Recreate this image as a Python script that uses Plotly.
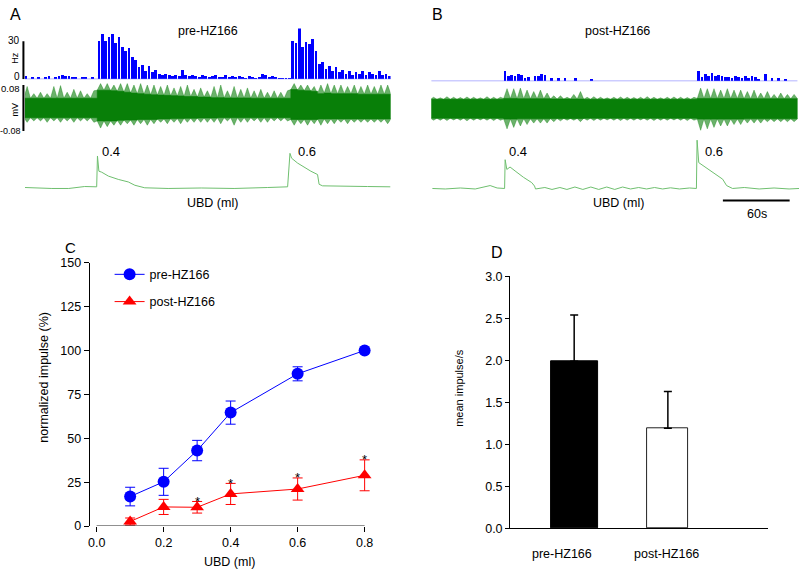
import numpy as np
import plotly.graph_objects as go

W, H = 800, 576
def px(x): return x / W
def py(y): return 1 - y / H

FONT = "Arial, Liberation Sans, sans-serif"

# ---------------- Panel A / B data ----------------
HIST_BIN = 3.0   # s
GREEN_BIN = 6.0  # s
T0 = -1.0        # s, start of first bin

# firing-rate histogram (Hz), pre-HZ166
hist_pre = [2.5, 0, 1, 0, 1.5, 0, 1, 2, 0, 1, 2.5, 3, 2.5, 2, 1, 1.5, 0, 1, 1, 0, 1.5, 0,
            30, 35, 30, 33, 35, 28, 33, 25, 22, 24, 17, 15, 9, 11, 6, 10, 5, 7, 4, 3, 4, 3,
            2.5, 3, 2, 7, 3, 2.5,
            3, 2, 1.5, 3, 2.5, 1, 2, 3, 1.5, 1, 3, 1.5, 2, 1, 2.5, 1, 0.5, 2, 1, 0.5, 1.5, 4,
            3, 1, 2.5, 1, 0.5, 0.5, 0.5, 0.5,
            30, 28, 42, 25, 29, 27, 31, 22, 12, 13, 8, 10, 6, 9, 5, 7, 4, 6, 3, 5, 4, 6, 3, 5,
            4, 3, 6, 3, 4, 2.5]
# firing-rate histogram (Hz), post-HZ166
hist_post = [0, 0, 0, 0, 0, 0, 0, 0, 0, 0, 0, 0, 0, 0, 0, 0, 0, 0, 0, 0, 0, 0,
             8, 4, 4.5, 3.5, 5, 4.5, 2.5, 3, 0, 4, 3.5, 5, 4.5, 0, 2, 0, 2, 0, 2.5, 0, 0, 2,
             0, 0, 0, 0, 1.5,
             0, 0, 0, 0, 0, 0, 0, 0, 0, 0, 0, 0, 0, 0, 0, 0, 0, 0, 0, 0, 0, 0, 0, 0, 0, 0, 0,
             0, 0, 0, 0,
             7.5, 3, 5, 3.5, 6, 4, 4.5, 4, 3, 3, 2.5, 4, 3, 2, 4, 2.5, 3.5, 3, 1.5, 0, 5, 0, 2,
             0, 2, 0, 1.5, 0, 0, 0]

# raw nerve recording envelopes (mV), pre-HZ166
core_top_pre = [0.034, 0.034, 0.034, 0.034, 0.034, 0.034, 0.034, 0.034, 0.034, 0.034, 0.034,
                0.062, 0.062, 0.06, 0.058, 0.055, 0.052, 0.05, 0.048, 0.046, 0.045, 0.044, 0.043,
                0.042, 0.04, 0.04, 0.038, 0.038, 0.036, 0.036, 0.035, 0.035, 0.035, 0.035, 0.034,
                0.034, 0.034, 0.034, 0.034, 0.034,
                0.064, 0.062, 0.06, 0.058, 0.05, 0.052, 0.05, 0.05, 0.05, 0.05, 0.048, 0.048,
                0.048, 0.048, 0.048]
core_bot_pre = [-0.034, -0.034, -0.034, -0.034, -0.034, -0.034, -0.034, -0.034, -0.034, -0.034, -0.034,
                -0.045, -0.045, -0.045, -0.043, -0.042, -0.042, -0.04, -0.04, -0.04, -0.038, -0.038,
                -0.037, -0.037, -0.036, -0.036, -0.035, -0.035, -0.035, -0.034,
                -0.034, -0.034, -0.034, -0.034, -0.034, -0.034, -0.034, -0.034, -0.034, -0.034,
                -0.04, -0.04, -0.04, -0.04, -0.038, -0.038, -0.038, -0.038, -0.038, -0.038,
                -0.038, -0.038, -0.038, -0.038, -0.038]
spike_top_pre = [0.075, 0.05, 0.055, 0.05, 0.075, 0.078, 0.055, 0.065, 0.06, 0.05, 0.06,
                 0.085, 0.085, 0.08, 0.085, 0.085, 0.08, 0.085, 0.08, 0.08, 0.075, 0.08, 0.07,
                 0.075, 0.08, 0.065, 0.07, 0.06, 0.075, 0.08, 0.06, 0.075, 0.065, 0.07, 0.06,
                 0.065, 0.055, 0.06, 0.055, 0.06,
                 0.085, 0.08, 0.08, 0.075, 0.08, 0.085, 0.08, 0.08, 0.075, 0.08, 0.075, 0.08,
                 0.075, 0.08, 0.08]
spike_bot_pre = [-0.05, -0.045, -0.045, -0.05, -0.045, -0.05, -0.045, -0.05, -0.045, -0.045, -0.05,
                 -0.07, -0.065, -0.06, -0.06, -0.055, -0.06, -0.055, -0.06, -0.055, -0.05, -0.055,
                 -0.05, -0.055, -0.05, -0.05, -0.05, -0.05, -0.05, -0.055, -0.045, -0.06, -0.05,
                 -0.05, -0.045, -0.05, -0.05, -0.045, -0.045, -0.045,
                 -0.06, -0.055, -0.06, -0.055, -0.06, -0.055, -0.055, -0.05, -0.055, -0.05,
                 -0.05, -0.05, -0.05, -0.05, -0.055]

# raw nerve recording envelopes (mV), post-HZ166
core_top_post = [0.033, 0.033, 0.033, 0.033, 0.033, 0.033, 0.033, 0.033, 0.033, 0.033, 0.033,
                 0.036, 0.036, 0.035, 0.035, 0.035, 0.035, 0.035, 0.034, 0.034, 0.034, 0.034, 0.034,
                 0.033, 0.033, 0.033, 0.033, 0.033, 0.033, 0.033, 0.033, 0.033, 0.033, 0.033, 0.033,
                 0.033, 0.033, 0.033, 0.033, 0.033,
                 0.036, 0.036, 0.036, 0.036, 0.036, 0.036, 0.036, 0.035, 0.035, 0.035, 0.035,
                 0.035, 0.035, 0.035, 0.035]
core_bot_post = [-0.033, -0.033, -0.033, -0.033, -0.033, -0.033, -0.033, -0.033, -0.033, -0.033, -0.033,
                 -0.036, -0.036, -0.035, -0.035, -0.035, -0.035, -0.035, -0.034, -0.034, -0.034, -0.034,
                 -0.034, -0.033, -0.033, -0.033, -0.033, -0.033, -0.033, -0.033, -0.033, -0.033,
                 -0.033, -0.033, -0.033, -0.033, -0.033, -0.033, -0.033, -0.033,
                 -0.036, -0.036, -0.036, -0.036, -0.036, -0.036, -0.036, -0.035, -0.035, -0.035,
                 -0.035, -0.035, -0.035, -0.035, -0.035]
spike_top_post = [0.04, 0.038, 0.042, 0.04, 0.039, 0.041, 0.04, 0.038, 0.042, 0.04, 0.04,
                  0.07, 0.07, 0.072, 0.065, 0.06, 0.065, 0.055, 0.045, 0.045, 0.04, 0.05, 0.06,
                  0.04, 0.042, 0.04, 0.038, 0.04, 0.041, 0.04, 0.039, 0.04, 0.042, 0.04, 0.038,
                  0.04, 0.041, 0.04, 0.039, 0.04,
                  0.072, 0.07, 0.07, 0.065, 0.07, 0.065, 0.065, 0.06, 0.065, 0.055, 0.06, 0.05,
                  0.055, 0.05, 0.05]
spike_bot_post = [-0.04, -0.04, -0.041, -0.039, -0.04, -0.042, -0.04, -0.039, -0.04, -0.041, -0.04,
                  -0.07, -0.065, -0.06, -0.055, -0.05, -0.05, -0.05, -0.045, -0.042, -0.04, -0.04,
                  -0.045,
                  -0.04, -0.041, -0.04, -0.039, -0.04, -0.041, -0.04, -0.04, -0.039, -0.04, -0.041,
                  -0.04, -0.04, -0.039, -0.04, -0.041, -0.04,
                  -0.075, -0.07, -0.065, -0.06, -0.06, -0.055, -0.055, -0.05, -0.05, -0.05,
                  -0.045, -0.045, -0.045, -0.045, -0.045]

# bladder pressure (UBD) traces: time (s) and pressure (arb. units)
press_pre_t = [0, 10.7, 24.2, 39.4, 53.7, 64.5, 65.2, 66.5, 69, 75, 83.9, 92.9, 98.8, 107.7,
               128.7, 158.5, 188, 218.2, 236.1, 238.2, 239.7, 245.1, 251, 257, 263, 264.4,
               267.5, 277.6, 307.8, 328.6]
press_pre_v = [1, 0.5, 0, 0, 2, 1.7, 33.3, 17.7, 16.7, 12.7, 9.3, 6.7, 3.3, 0.7,
               0, 0.5, 0, 1, 1.7, 36, 31, 26, 21.7, 17.7, 14.3, 4.3,
               2.7, 2.7, 2, 1.7]
press_post_t = [0.9, 12.5, 26, 39.4, 52.8, 59.1, 65.8, 66.3, 67.8, 70.7, 75.2, 82.7, 90.2, 92.7,
                93.6, 102, 108.4, 115.5, 121.8, 129, 136.1, 143.3, 150.4, 157.6, 164.8, 171.9,
                179, 186.3, 193.4, 200.6, 207.8, 214.9, 223, 232, 238.2, 238.8, 240.3, 246.9,
                254.3, 261.8, 265.3, 270.7, 281.2, 294.6, 308, 321.5, 330.4]
press_post_v = [0.5, 0, 1, 0, 3.5, 1, 0.5, 30, 20, 22.5, 18.5, 12, 6.5, 3,
                0, 1.5, -0.5, 1.5, -0.5, 2, -0.5, 2, -0.5, 2, -0.5, 2,
                0, 1.5, 0, 1.5, 0, 1.2, 0, 1, 0.5, 50, 27, 22,
                16, 10, 3.5, 0.5, 1.5, 0, 1, 0, 0.5]

# ---------------- Panel C data ----------------
ubd = [0.1, 0.2, 0.3, 0.4, 0.6, 0.8]
pre_mean = [16.8, 25.2, 43.0, 64.6, 86.7, 100.0]
pre_sem = [5.3, 7.7, 5.8, 6.6, 4.0, 0.0]
post_mean = [2.6, 10.9, 10.7, 18.3, 21.1, 28.9]
post_sem = [2.0, 4.3, 3.3, 6.0, 6.3, 8.8]
signif = [False, False, True, True, True, True]

# ---------------- Panel D data ----------------
groups = ["pre-HZ166", "post-HZ166"]
mean_rate = [1.99, 1.19]
mean_rate_sem = [0.55, 0.44]

# ---------------- build figure ----------------
fig = go.Figure()

def step_xy(vals, binw):
    x = list(T0 + binw * np.arange(len(vals) + 1))
    y = list(vals) + [vals[-1]]
    return x, y

def saw_xy(core, spike, binw):
    # bin edges at core level, bin centres at spike level
    xs, ys = [], []
    for i, (c, s) in enumerate(zip(core, spike)):
        xs += [T0 + binw * i, T0 + binw * (i + 0.5)]
        ys += [c, s]
    xs.append(T0 + binw * len(core))
    ys.append(core[-1])
    return xs, ys

BLUE = "#0000ff"
GREEN = "#087f08"
SPIKE = "rgba(8,127,8,0.6)"
PGREEN = "#6fbf6f"

# histograms: bars + baseline
for hist, xa, ya in [(hist_pre, "x", "y"), (hist_post, "x2", "y4")]:
    centers = T0 + HIST_BIN * (np.arange(len(hist)) + 0.5)
    edges = T0 + HIST_BIN * np.arange(len(hist) + 1)
    fig.add_trace(go.Scatter(x=[edges[0], edges[-1]], y=[0, 0], mode="lines",
                             line=dict(color="#6a6aff", width=1), xaxis=xa, yaxis=ya,
                             showlegend=False, hoverinfo="skip"))
    fig.add_trace(go.Bar(x=centers, y=hist, width=HIST_BIN * 0.85, marker=dict(color=BLUE, line=dict(width=0)),
                         xaxis=xa, yaxis=ya, showlegend=False, hoverinfo="skip"))

# raw recordings: spiky fringe + dense core band
for (st, sb, ct, cb, xa, ya) in [(spike_top_pre, spike_bot_pre, core_top_pre, core_bot_pre, "x", "y2"),
                                 (spike_top_post, spike_bot_post, core_top_post, core_bot_post, "x2", "y5")]:
    ux, uy = saw_xy(ct, st, GREEN_BIN)
    lx, ly = saw_xy(cb, sb, GREEN_BIN)
    fig.add_trace(go.Scatter(x=ux, y=uy, mode="lines", line=dict(width=0.6, color=SPIKE),
                             xaxis=xa, yaxis=ya, showlegend=False, hoverinfo="skip"))
    fig.add_trace(go.Scatter(x=lx, y=ly, mode="lines", line=dict(width=0.6, color=SPIKE),
                             fill="tonexty", fillcolor=SPIKE, xaxis=xa, yaxis=ya,
                             showlegend=False, hoverinfo="skip"))
    tx, ty = step_xy(ct, GREEN_BIN)
    bx, by = step_xy(cb, GREEN_BIN)
    fig.add_trace(go.Scatter(x=tx, y=ty, mode="lines", line=dict(shape="hv", width=0.6, color=GREEN),
                             xaxis=xa, yaxis=ya, showlegend=False, hoverinfo="skip"))
    fig.add_trace(go.Scatter(x=bx, y=by, mode="lines", line=dict(shape="hv", width=0.6, color=GREEN),
                             fill="tonexty", fillcolor=GREEN, xaxis=xa, yaxis=ya,
                             showlegend=False, hoverinfo="skip"))

for (t, v, xa, ya) in [(press_pre_t, press_pre_v, "x", "y3"), (press_post_t, press_post_v, "x2", "y6")]:
    fig.add_trace(go.Scatter(x=t, y=v, mode="lines", line=dict(color=PGREEN, width=1),
                             xaxis=xa, yaxis=ya, showlegend=False, hoverinfo="skip"))

# Panel C
fig.add_trace(go.Scatter(x=ubd, y=pre_mean, mode="lines+markers", name="pre-HZ166",
                         line=dict(color=BLUE, width=1),
                         marker=dict(symbol="circle", size=12, color=BLUE),
                         error_y=dict(type="data", array=pre_sem, color=BLUE, thickness=1, width=5),
                         xaxis="x3", yaxis="y7", cliponaxis=False, legendgroup="a"))
fig.add_trace(go.Scatter(x=ubd, y=post_mean, mode="lines+markers", name="post-HZ166",
                         line=dict(color="#ff0000", width=1),
                         marker=dict(symbol="triangle-up", size=12, color="#ff0000"),
                         error_y=dict(type="data", array=post_sem, color="#ff0000", thickness=1, width=5),
                         xaxis="x3", yaxis="y7", cliponaxis=False, legendgroup="b"))

# Panel D
fig.add_trace(go.Bar(x=groups, y=mean_rate, width=[0.5, 0.44],
                     marker=dict(color=["black", "white"], line=dict(color=["black", "#222222"], width=1)),
                     error_y=dict(type="data", array=mean_rate_sem, arrayminus=[0, 0], symmetric=False,
                                  color="black", thickness=1.5, width=4),
                     xaxis="x4", yaxis="y8", showlegend=False))

hid = dict(visible=False, fixedrange=True)
tickfont = dict(family=FONT, size=12.5, color="black")
fig.update_layout(
    width=W, height=H, margin=dict(l=0, r=0, t=0, b=0),
    paper_bgcolor="white", plot_bgcolor="rgba(0,0,0,0)",
    font=dict(family=FONT, color="black"),
    xaxis=dict(domain=[px(23), px(390)], range=[0, 328.6], anchor="y3", **hid),
    yaxis=dict(domain=[py(74), py(22)], range=[0, 40], anchor="x", **hid),
    yaxis2=dict(domain=[py(130), py(78)], range=[-0.0901, 0.0867], anchor="x", **hid),
    yaxis3=dict(domain=[py(190), py(134)], range=[-4, 52], anchor="x", **hid),
    xaxis2=dict(domain=[px(431), px(800)], range=[0, 330.4], anchor="y6", **hid),
    yaxis4=dict(domain=[py(76), py(24)], range=[0, 40], anchor="x2", **hid),
    yaxis5=dict(domain=[py(130), py(78)], range=[-0.0874, 0.0894], anchor="x2", **hid),
    yaxis6=dict(domain=[py(190.5), py(134.5)], range=[-4, 52], anchor="x2", **hid),
    xaxis3=dict(domain=[px(88), px(372)], range=[-0.0208, 0.8238], anchor="y7",
                tickvals=[0, 0.2, 0.4, 0.6, 0.8], tickformat=".1f", ticks="outside", ticklen=5,
                tickcolor="black", showline=False, showgrid=False, zeroline=False, tickfont=tickfont),
    yaxis7=dict(domain=[py(532), py(262)], range=[0, 150], anchor="x3",
                tickvals=[0, 25, 50, 75, 100, 125, 150], ticks="outside", ticklen=5, tickcolor="black",
                showline=True, linecolor="black", linewidth=1, showgrid=False, zeroline=False,
                tickfont=tickfont),
    xaxis4=dict(domain=[px(510), px(769)], range=[-0.684, 2.07], anchor="y8", type="category",
                showline=True, linecolor="black", linewidth=1, ticks="", showticklabels=False,
                showgrid=False, zeroline=False),
    yaxis8=dict(domain=[py(534.3), py(276)], range=[0, 3], anchor="x4",
                tickvals=[0, 0.5, 1, 1.5, 2, 2.5, 3], tickformat=".1f", ticks="outside", ticklen=4,
                tickcolor="black", showline=True, linecolor="black", linewidth=1, showgrid=False,
                zeroline=False, tickfont=tickfont),
    legend=dict(x=px(108), y=py(259), xanchor="left", yanchor="top", font=dict(family=FONT, size=12.5),
                bgcolor="rgba(0,0,0,0)", traceorder="grouped", tracegroupgap=8),
    bargap=0,
)

shapes = [
    dict(type="line", xref="paper", yref="y", x0=px(21.5), x1=px(21.5), y0=0, y1=30,
         line=dict(color="black", width=2)),
    dict(type="line", xref="paper", yref="y2", x0=px(21.5), x1=px(21.5), y0=-0.08, y1=0.08,
         line=dict(color="black", width=2)),
    dict(type="line", xref="x2", yref="paper", x0=262, x1=322, y0=py(198.3), y1=py(198.3),
         line=dict(color="black", width=2)),
    dict(type="line", xref="x3", yref="y7", x0=0, x1=0.8, y0=0, y1=0,
         line=dict(color="black", width=1)),
]
fig.update_layout(shapes=shapes)

def ann(text, x, y, size, angle=0, xanchor="center", yanchor="middle"):
    return dict(text=text, x=px(x), y=py(y), xref="paper", yref="paper", showarrow=False,
                font=dict(family=FONT, size=size, color="black"), textangle=angle,
                xanchor=xanchor, yanchor=yanchor)

anns = [
    ann("A", 14, 8, 16), ann("pre-HZ166", 207, 25, 12.5), ann("0.4", 109, 148, 13),
    ann("0.6", 306, 148, 13), ann("UBD (ml)", 211, 201, 12.5),
    ann("B", 437, 8, 16), ann("post-HZ166", 618, 25, 12.5), ann("0.4", 518, 148, 13),
    ann("0.6", 715, 148, 13), ann("UBD (ml)", 619, 201, 12.5), ann("60s", 758, 212, 12.5),
    ann("30", 20, 34.5, 10, xanchor="right"), ann("Hz", 13, 52, 9, angle=-90),
    ann("0", 20, 71, 10, xanchor="right"), ann("0.08", 20.5, 84, 9.5, xanchor="right"),
    ann("mV", 13, 105, 9, angle=-90), ann("-0.08", 21, 127, 9, xanchor="right"),
    ann("C", 69, 247, 15), ann("normalized impulse (%)", 42, 379, 12.5, angle=-90),
    ann("UBD (ml)", 228.5, 569, 12.5),
    ann("D", 496.5, 251.5, 16), ann("mean impulse/s", 458, 390, 11, angle=-90),
    ann(groups[0], 562.5, 561, 12.5), ann(groups[1], 667.5, 561, 12.5),
]
for xv, m, s, sig in zip(ubd, post_mean, post_sem, signif):
    if sig:
        anns.append(dict(text="*", x=xv, y=m + s, xref="x3", yref="y7", showarrow=False,
                         font=dict(family=FONT, size=13, color="black"), yanchor="middle", yshift=0))
fig.update_layout(annotations=anns)

fig.write_html("out.html", config={"displayModeBar": False},
               post_script="document.body.style.margin='0px';document.body.style.overflow='hidden';")
